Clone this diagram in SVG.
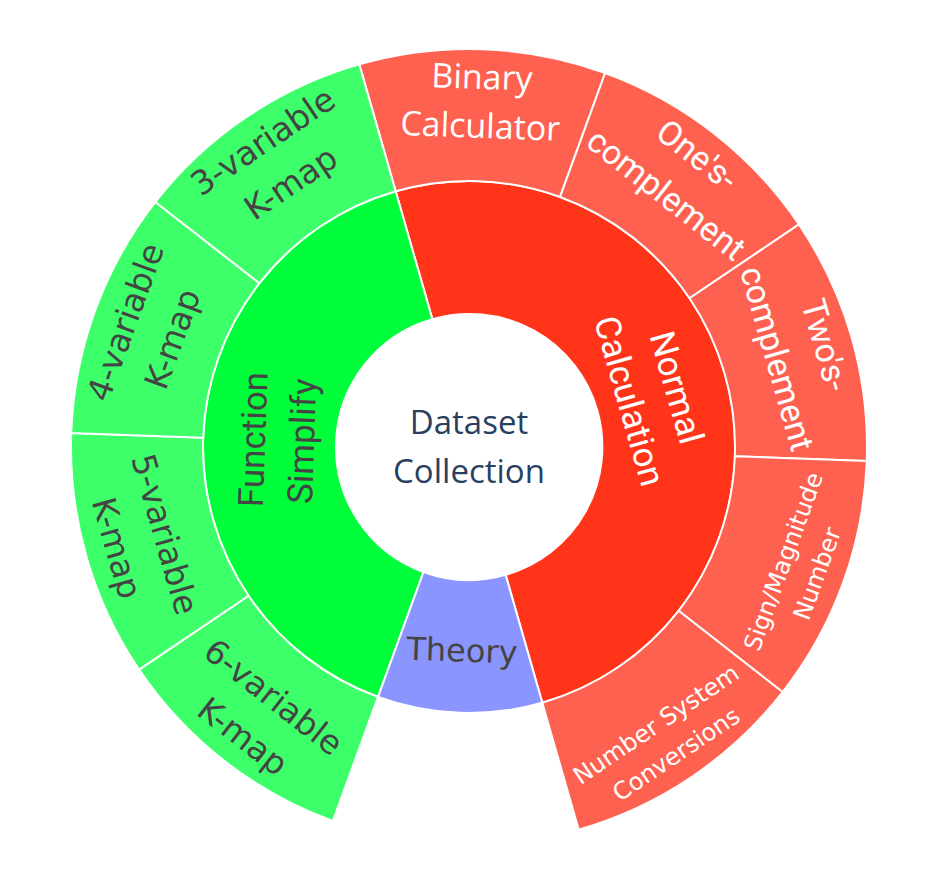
<svg xmlns="http://www.w3.org/2000/svg" width="947" height="887" viewBox="0 0 947 887">
<style>
.sec{stroke:#ffffff;stroke-width:2}
.red1{fill:#ff3419}
.red2{fill:#ff6150}
.grn1{fill:#00ff3a}
.grn2{fill:#3dff6a}
.th{fill:#8b95ff}
.wt{fill:#ffffff}
.dk{fill:#444444}
.ctr{fill:#2a3f5f}
text{text-anchor:middle}
.ro{font-family:Roboto,"Liberation Sans",sans-serif}
.dv{font-family:"DejaVu Sans",Verdana,sans-serif}
.os{font-family:"Open Sans","Liberation Sans",sans-serif}
</style>
<rect width="947" height="887" fill="#ffffff"/>

<g id="root">
<circle cx="469" cy="447" r="133" fill="#ffffff" class="sec"/>
<text class="os ctr" font-size="33"><tspan x="469" y="434.3">Dataset</tspan><tspan x="469" y="483.3">Collection</tspan></text>
</g>

<g id="normal-calculation">
<path class="sec red1" d="M 395.69 191.29 A 266 266 0 1 1 542.31 702.71 L 505.65 574.85 A 133 133 0 1 0 432.35 319.15 Z"/>
<text class="ro wt" font-size="35" transform="translate(653.6,394.1) rotate(74)"><tspan x="0" y="-11.9">Normal</tspan><tspan x="0" y="37.1">Calculation</tspan></text>
</g>

<g id="function-simplify">
<path class="sec grn1" d="M 378.03 696.96 A 266 266 0 0 1 395.69 191.29 L 432.35 319.15 A 133 133 0 0 0 423.51 571.98 Z"/>
<text class="ro dk" font-size="35" transform="translate(277.1,440.3) rotate(-88)"><tspan x="0" y="-11.9">Function</tspan><tspan x="0" y="37.1">Simplify</tspan></text>
</g>

<g id="theory">
<path class="sec th" d="M 542.31 702.71 A 266 266 0 0 1 378.03 696.96 L 423.51 571.98 A 133 133 0 0 0 505.65 574.85 Z"/>
<text class="dv dk" font-size="32" transform="translate(461.9,649.9) rotate(2)"><tspan x="0" y="11.7">Theory</tspan></text>
</g>

<g id="binary-calculator">
<path class="sec red2" d="M 359.31 64.40 A 398 398 0 0 1 605.12 73.00 L 559.97 197.04 A 266 266 0 0 0 395.69 191.29 Z"/>
<text class="os wt" font-size="34" transform="translate(481.1,101.2) rotate(2)"><tspan x="0" y="-12.3">Binary</tspan><tspan x="0" y="36.7">Calculator</tspan></text>
</g>

<g id="ones-complement">
<path class="sec red2" d="M 605.12 73.00 A 398 398 0 0 1 798.94 224.44 L 689.51 298.25 A 266 266 0 0 0 559.97 197.04 Z"/>
<text class="ro wt" font-size="34" transform="translate(682.0,174.3) rotate(38)"><tspan x="0" y="-12.8">One's-</tspan><tspan x="0" y="37.2">complement</tspan></text>
</g>

<g id="twos-complement">
<path class="sec red2" d="M 798.94 224.44 A 398 398 0 0 1 866.76 460.89 L 734.84 456.28 A 266 266 0 0 0 689.51 298.25 Z"/>
<text class="ro wt" font-size="34" transform="translate(801.6,351.6) rotate(74)"><tspan x="0" y="-12.8">Two's-</tspan><tspan x="0" y="37.2">complement</tspan></text>
</g>

<g id="sign-magnitude-number">
<path class="sec red2" d="M 866.76 460.89 A 398 398 0 0 1 782.62 692.05 L 678.61 610.78 A 266 266 0 0 0 734.84 456.28 Z"/>
<text class="dv wt" font-size="24" transform="translate(799.8,567.4) rotate(-70)"><tspan x="0" y="-9.2">Sign/Magnitude</tspan><tspan x="0" y="26.8">Number</tspan></text>
</g>

<g id="number-system-conversions">
<path class="sec red2" d="M 782.62 692.05 A 398 398 0 0 1 578.69 829.60 L 542.31 702.71 A 266 266 0 0 0 678.61 610.78 Z"/>
<text class="dv wt" font-size="24" transform="translate(665.8,738.8) rotate(-34)"><tspan x="0" y="-9.2">Number System</tspan><tspan x="0" y="26.8">Conversions</tspan></text>
</g>

<g id="six-variable-kmap">
<path class="sec grn2" d="M 332.88 821.00 A 398 398 0 0 1 139.06 669.56 L 248.49 595.75 A 266 266 0 0 0 378.03 696.96 Z"/>
<text class="dv dk" font-size="33" transform="translate(258.4,716.5) rotate(38)"><tspan x="0" y="-13.1">6-variable</tspan><tspan x="0" y="36.9">K-map</tspan></text>
</g>

<g id="five-variable-kmap">
<path class="sec grn2" d="M 139.06 669.56 A 398 398 0 0 1 71.24 433.11 L 203.16 437.72 A 266 266 0 0 0 248.49 595.75 Z"/>
<text class="dv dk" font-size="33" transform="translate(141.2,541.0) rotate(74)"><tspan x="0" y="-13.1">5-variable</tspan><tspan x="0" y="36.9">K-map</tspan></text>
</g>

<g id="four-variable-kmap">
<path class="sec grn2" d="M 71.24 433.11 A 398 398 0 0 1 155.38 201.95 L 259.39 283.22 A 266 266 0 0 0 203.16 437.72 Z"/>
<text class="dv dk" font-size="33" transform="translate(148.6,330.4) rotate(-70)"><tspan x="0" y="-13.1">4-variable</tspan><tspan x="0" y="36.9">K-map</tspan></text>
</g>

<g id="three-variable-kmap">
<path class="sec grn2" d="M 155.38 201.95 A 398 398 0 0 1 359.31 64.40 L 395.69 191.29 A 266 266 0 0 0 259.39 283.22 Z"/>
<text class="dv dk" font-size="33" transform="translate(276.6,161.8) rotate(-34)"><tspan x="0" y="-13.1">3-variable</tspan><tspan x="0" y="36.9">K-map</tspan></text>
</g>
</svg>
